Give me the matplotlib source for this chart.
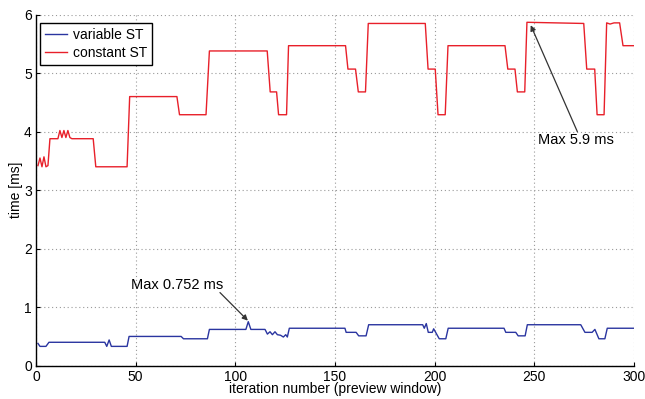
import matplotlib
matplotlib.use('Agg')
import matplotlib.pyplot as plt

# iteration / time [ms]
red_x = [1, 2, 3, 4, 5, 6, 7, 11, 12, 13, 14, 15, 16, 17, 18, 28.7, 30, 45.7, 47,
         70.7, 72, 85.3, 87, 116, 117.5, 120.7, 121.7, 125.7, 126.7, 155.3, 156.5,
         160.3, 161.7, 165.3, 166.7, 195.3, 196.7, 200.3, 201.7, 205.3, 206.7,
         235.3, 236.7, 240.3, 241.5, 245.2, 246.3, 274.8, 276.3, 280.3, 281.5,
         285, 286.3, 288, 290, 292.8, 294.5, 300]
red_y = [3.42, 3.55, 3.40, 3.57, 3.40, 3.42, 3.88, 3.88, 4.02, 3.90, 4.02, 3.90, 4.02,
         3.90, 3.88, 3.88, 3.40, 3.40, 4.60, 4.60, 4.29, 4.29, 5.38, 5.38, 4.68, 4.68,
         4.29, 4.29, 5.47, 5.47, 5.07, 5.07, 4.68, 4.68, 5.85, 5.85, 5.07, 5.07, 4.29,
         4.29, 5.47, 5.47, 5.07, 5.07, 4.68, 4.68, 5.87, 5.85, 5.07, 5.07, 4.29, 4.29,
         5.86, 5.84, 5.86, 5.86, 5.47, 5.47]

blue_x = [1, 2, 5, 6.5, 34.5, 35.5, 36.7, 37.8, 45.7, 46.7, 72.8, 74, 86, 87, 105.3,
          106.5, 107.8, 114.9, 116.1, 117.4, 118.6, 119.9, 121.1, 122.7, 124.1, 125.3,
          126.1, 127.1, 155, 155.6, 160.6, 161.9, 165.6, 166.9, 194, 194.8, 195.8,
          196.8, 198.8, 199.5, 200.5, 202.3, 205.6, 206.8, 234.8, 235.7, 240.7, 241.9,
          245.4, 246.5, 273.3, 275.4, 279, 280.4, 282.4, 285.4, 286.6, 300]
blue_y = [0.38, 0.33, 0.33, 0.40, 0.40, 0.33, 0.44, 0.33, 0.33, 0.50, 0.50, 0.46, 0.46,
          0.62, 0.62, 0.752, 0.62, 0.62, 0.54, 0.58, 0.53, 0.58, 0.53, 0.52, 0.49, 0.53,
          0.49, 0.64, 0.64, 0.57, 0.57, 0.51, 0.51, 0.70, 0.70, 0.64, 0.72, 0.57, 0.57,
          0.63, 0.57, 0.46, 0.46, 0.64, 0.64, 0.57, 0.57, 0.51, 0.51, 0.70, 0.70, 0.57,
          0.57, 0.62, 0.46, 0.46, 0.64, 0.64]

x_ticks = [0, 50, 100, 150, 200, 250, 300]
y_ticks = [0, 1, 2, 3, 4, 5, 6]

plt.rcParams['font.family'] = ['Liberation Sans', 'DejaVu Sans']
plt.rcParams['font.size'] = 10

fig = plt.figure(figsize=(6.45, 3.99), dpi=100)
ax = fig.add_axes([0.0558, 0.0835, 0.9271, 0.8797])

ax.plot(blue_x, blue_y, color='#2a35a0', lw=1.0, label='variable ST')
ax.plot(red_x, red_y, color='#e8202a', lw=1.0, label='constant ST')

ax.set_xlim(0, 300)
ax.set_ylim(0, 6)
ax.set_xticks(x_ticks)
ax.set_yticks(y_ticks)
ax.grid(True, color='#9a9a9a', linestyle=(0, (1, 2.5)), lw=0.8)
ax.tick_params(direction='in', length=3, width=0.8, colors='black', pad=3)
for s in ['top', 'right']:
    ax.spines[s].set_visible(False)
for s in ['left', 'bottom']:
    ax.spines[s].set_linewidth(1.0)

ax.set_xlabel('iteration number (preview window)', labelpad=-1)
ax.set_ylabel('time [ms]', labelpad=1)

leg = ax.legend(loc='upper left', bbox_to_anchor=(0.0067, 0.977), borderaxespad=0,
                fancybox=False, framealpha=1, edgecolor='black', handlelength=1.6,
                handletextpad=0.45, labelspacing=0.3, borderpad=0.35)
leg.get_frame().set_linewidth(1.0)

arrow = dict(arrowstyle='-|>', color='#333333', lw=0.9, mutation_scale=8,
             shrinkA=0, shrinkB=0)
ax.annotate('', xy=(106.3, 0.77), xytext=(92.3, 1.25), arrowprops=arrow)
ax.text(71, 1.38, 'Max 0.752 ms', ha='center', va='center', fontsize=10.5)
ax.annotate('', xy=(248.2, 5.82), xytext=(271.6, 4.0), arrowprops=arrow)
ax.text(270.7, 3.85, 'Max 5.9 ms', ha='center', va='center', fontsize=10.5)

fig.savefig('out.png', dpi=100)
